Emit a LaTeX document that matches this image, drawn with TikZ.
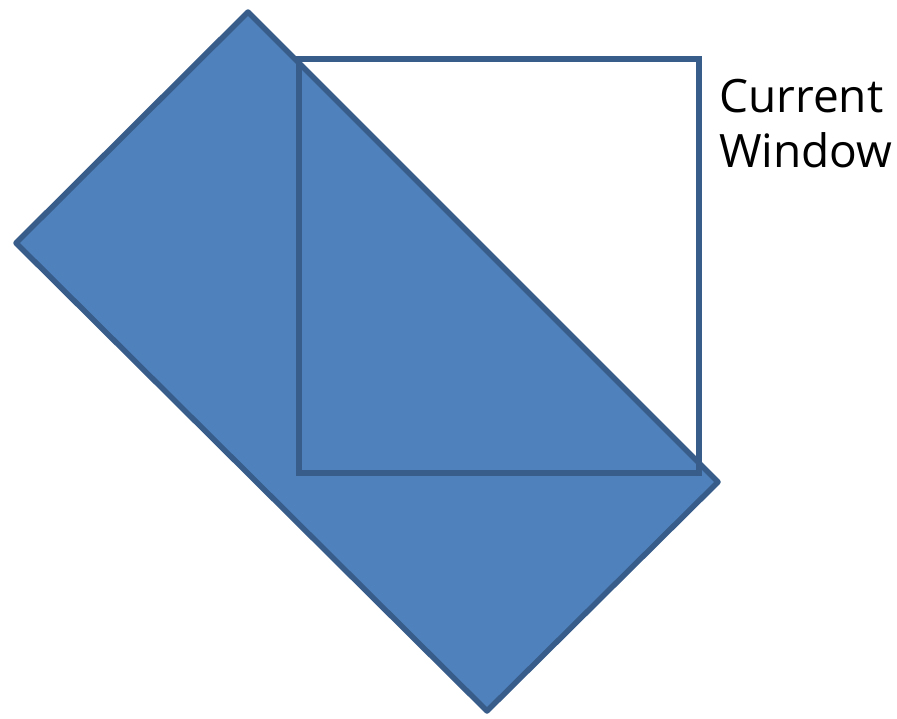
\documentclass[tikz,border=0pt]{standalone}
\usepackage{fontspec}
\setmainfont{Open Sans}
\definecolor{shapefill}{HTML}{4F81BD}
\definecolor{shapeline}{HTML}{385D8A}
\begin{document}
\begin{tikzpicture}[x=1pt,y=-1pt,
  blueshape/.style={fill=shapefill,draw=shapeline,line width=5.5pt,line join=round},
  window/.style={draw=shapeline,line width=5.5pt,line join=miter},
  label/.style={inner sep=0pt,anchor=base west,align=left,font=\fontsize{46}{55}\selectfont}]
\useasboundingbox (0,0) rectangle (897,718);
\coordinate (t) at (248,12);
\coordinate (l) at (16,243);
\coordinate (b) at (487,711);
\coordinate (r) at (718,482);
\draw[blueshape] (t) -- (r) -- (b) -- (l) -- cycle;
\coordinate (w1) at (299,59);
\coordinate (w2) at (699,473);
\draw[window] (w1) rectangle (w2);
\node[label] (lbl) at (719,167) {Current\\Window};
\end{tikzpicture}
\end{document}
